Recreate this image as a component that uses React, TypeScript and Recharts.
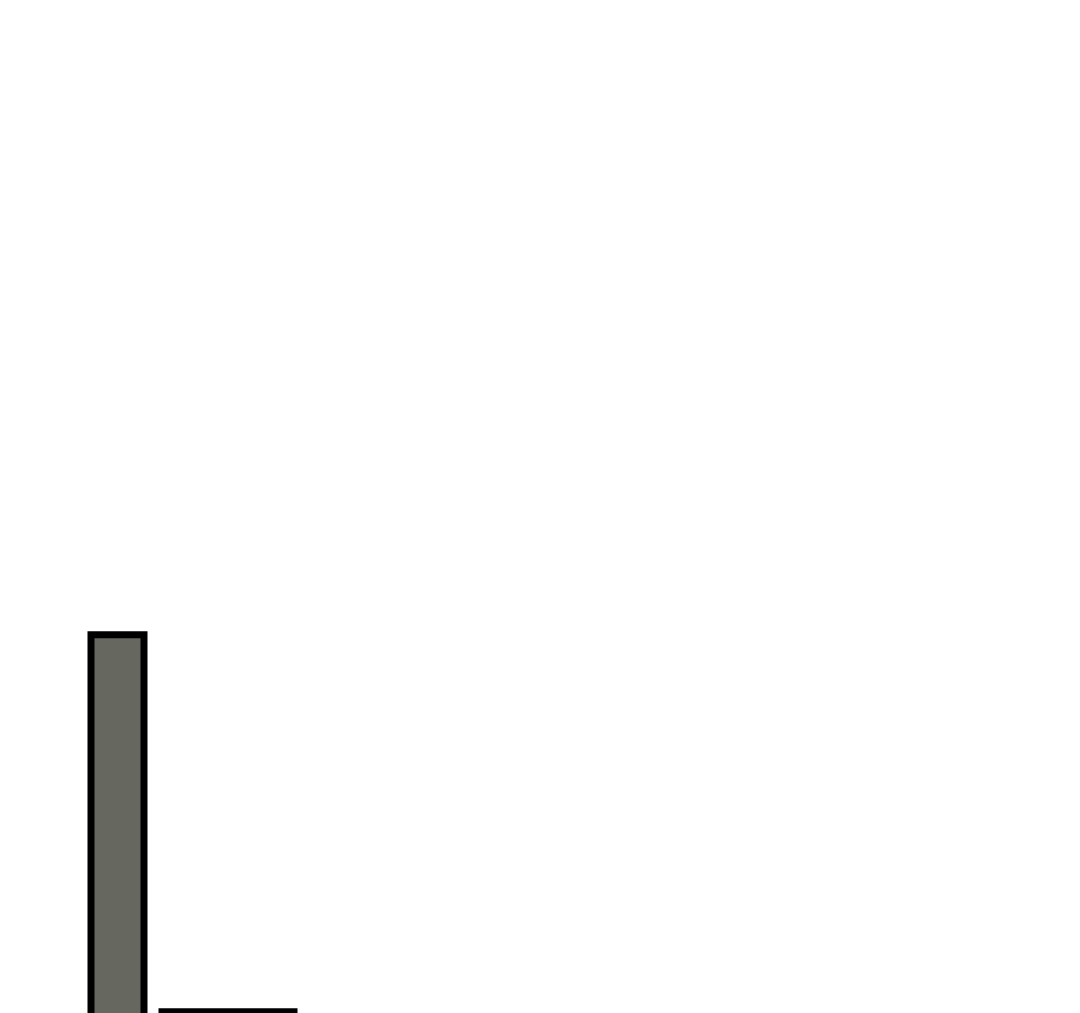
import React from 'react';
import { BarChart, Bar, XAxis, YAxis } from 'recharts';

const categories = ['A'];
const seriesOne = [55.1];
const seriesTwo = [28.1];

const data = categories.map((name, i) => ({ name, s1: seriesOne[i], s2: seriesTwo[i] }));

export default function App() {
  return (
    <div style={{ position: 'fixed', top: 8, left: 8, width: 1064, height: 1100, overflow: 'hidden' }}>
      <BarChart
        width={369}
        height={1396}
        data={data}
        margin={{ top: 0, right: 0, bottom: 0, left: 0 }}
        barGap={18}
      >
        <XAxis dataKey="name" hide />
        <YAxis hide domain={[0, 100]} />
        <Bar dataKey="s1" barSize={53} fill="#66675e" stroke="#000000" strokeWidth={7} isAnimationActive={false} />
        <Bar dataKey="s2" barSize={132} fill="#66675e" stroke="#000000" strokeWidth={7} isAnimationActive={false} />
      </BarChart>
    </div>
  );
}
